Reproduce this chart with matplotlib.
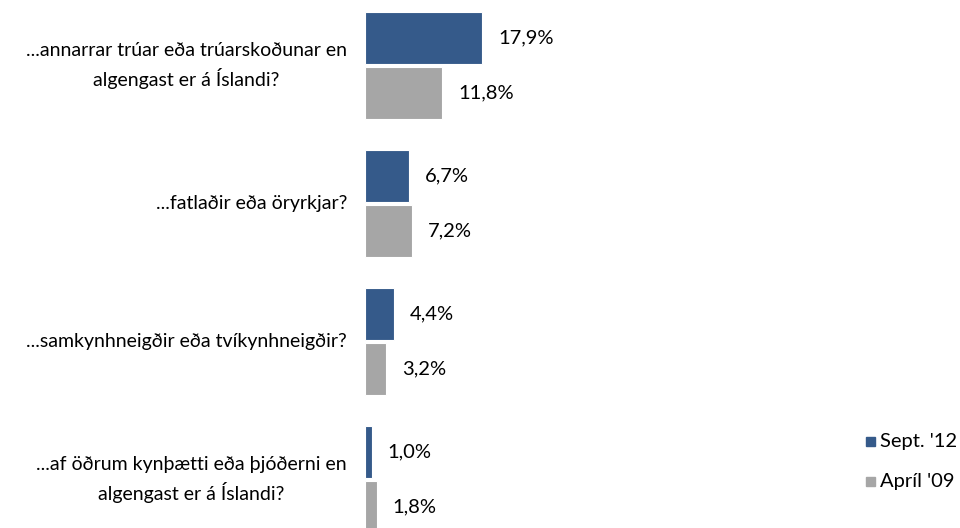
import matplotlib
matplotlib.use("Agg")
import matplotlib.pyplot as plt
from matplotlib.patches import Rectangle

categories = [
    "...annarrar trúar eða trúarskoðunar en\nalgengast er á Íslandi?",
    "...fatlaðir eða öryrkjar?",
    "...samkynhneigðir eða tvíkynhneigðir?",
    "...af öðrum kynþætti eða þjóðerni en\nalgengast er á Íslandi?",
]
series_names = ["Sept. '12", "Apríl '09"]
sept12 = [17.9, 6.7, 4.4, 1.0]
april09 = [11.8, 7.2, 3.2, 1.8]
colors = ["#355A8A", "#A6A6A6"]

W, H = 960, 528
fig = plt.figure(figsize=(W / 100, H / 100), dpi=100)
plt.rcParams['font.family'] = ['Lato', 'DejaVu Sans']

px = 6.55  # pixels per percent
ax_left = 365
ax_w = 30 * px
ax_top = -3.5
ax_h = 552
ax = fig.add_axes([ax_left / W, (H - ax_top - ax_h) / H, ax_w / W, ax_h / H])
ax.set_xlim(0, 30)
ax.set_ylim(3.5, -0.5)
ax.axis("off")

ypos = list(range(len(categories)))
bh = 52 / 138
off = 27.5 / 138
series = [sept12, april09]
for i, (vals, col) in enumerate(zip(series, colors)):
    ys = [y + (-off if i == 0 else off) for y in ypos]
    ax.barh(ys, vals, height=bh, color=col, edgecolor="white", linewidth=0.8)
    for y, v in zip(ys, vals):
        ax.text(v + 16 / px, y, f"{v:.1f}%".replace(".", ","), va="center", ha="left",
                fontsize=14.5, color="#000000")

for y, c in zip(ypos, categories):
    ax.text(-18 / px, y, c, ha="right", va="center", multialignment="center",
            fontsize=14, color="#000000", linespacing=1.45)

# legend
for k, (name, col) in enumerate(zip(series_names, colors)):
    yc = 441 + 40 * k
    fig.patches.append(Rectangle(((866) / W, (H - yc - 4.5) / H), 9 / W, 9 / H,
                                 transform=fig.transFigure, color=col, figure=fig))
    fig.text(880 / W, (H - yc) / H, name, ha="left", va="center", fontsize=14.5)

fig.savefig("out.png", dpi=100)
